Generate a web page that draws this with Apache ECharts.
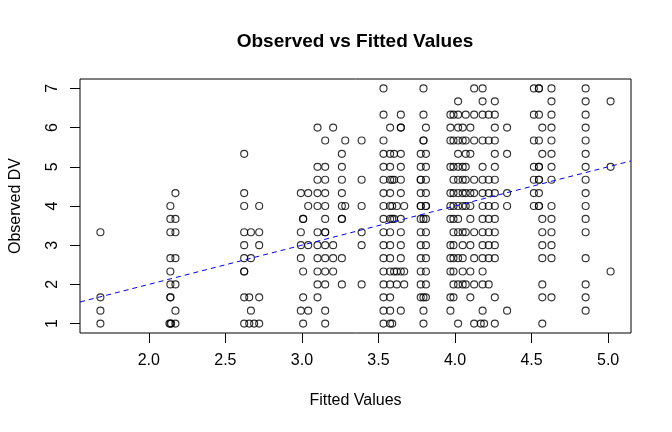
<!DOCTYPE html>
<html>
<head>
<meta charset="utf-8">
<script src="https://cdn.jsdelivr.net/npm/echarts@6/dist/echarts.min.js"></script>
<style>
html,body{margin:0;padding:0;background:#fff;}
#c{width:672px;height:432px;}
</style>
</head>
<body>
<div id="c"></div>
<script>
// ---- data ----
const chartTitle = 'Observed vs Fitted Values';
const xLabel = 'Fitted Values';
const yLabel = 'Observed DV';
const xTicks = [2.0, 2.5, 3.0, 3.5, 4.0, 4.5, 5.0];
const yTicks = [1, 2, 3, 4, 5, 6, 7];
// fitted-value columns and the observed values stacked at each
const fittedValues = [
  1.684, 2.135, 2.141, 2.146, 2.174,
  2.623, 2.656, 2.667, 2.688, 2.721,
  2.993, 3.008, 3.041, 3.102, 3.152, 3.204, 3.261, 3.283, 3.39,
  3.533, 3.576, 3.59, 3.602, 3.62, 3.646, 3.668, 3.776, 3.794, 3.81,
  3.97, 3.99, 4.02, 4.05, 4.07, 4.10, 4.125, 4.168, 4.18, 4.19, 4.22, 4.26, 4.34,
  4.515, 4.548, 4.57, 4.63, 4.853, 5.016
];
const observedAtFitted = [
  [1, 1.33, 1.67, 3.33],
  [1],
  [1, 1.67, 1.67, 2, 2.33, 2.67, 3.33, 3.67, 4],
  [1],
  [1, 1.33, 2, 2.67, 3.33, 3.67, 4.33],
  [1, 1.67, 2.33, 2.33, 2.67, 3, 3.33, 4, 4.33, 5.33],
  [1, 1.67],
  [1.33, 2.67, 3.33],
  [1],
  [1, 1.67, 3, 3.33, 4],
  [1.33, 2.67, 3, 3.33, 4.33],
  [1, 1.67, 2.33, 3.67, 3.67],
  [1.33, 3, 4, 4.33],
  [1.67, 2, 2.33, 2.67, 3, 3.33, 4, 4.33, 4.67, 5, 6],
  [1, 1.33, 2, 2.33, 2.67, 3, 3.33, 3.33, 3.67, 4, 4.33, 4.67, 5, 5.67],
  [2.33, 2.67, 3, 6],
  [2, 2.67, 3.67, 3.67, 4, 4.33, 4.67, 5, 5.33],
  [4, 5.67],
  [2, 3, 3.33, 4, 4.67, 5.67],
  [1, 1.33, 1.67, 2, 2.33, 2.67, 3, 3.33, 3.67, 4, 4.33, 4.67, 5, 5.33, 5.67, 6.33, 7],
  [1, 1.33, 1.67, 2, 2.33, 2.67, 3, 3.33, 3.67, 4, 4.33, 4.67, 5, 5.33, 6],
  [1, 3.67, 4, 4.67],
  [2.33, 3.67, 4.67, 5.33],
  [2, 2.33, 4],
  [1.33, 2.33, 2.67, 3, 3.33, 3.67, 4.33, 4.67, 5, 5.33, 6, 6, 6.33],
  [2, 2.33, 4],
  [1.67, 2, 2.33, 2.67, 3, 3.33, 3.67, 4, 4, 4.33, 4.67, 4.67, 5, 5.33],
  [1, 1.33, 1.67, 3.67, 5.67, 5.67, 6.33, 7],
  [1.67, 2, 2.33, 2.67, 3, 3.33, 3.67, 4, 4, 4.33, 4.67, 5, 5.33, 6],
  [1.33, 1.67, 2.33, 2.67, 3, 3.67, 4, 4.33, 5, 5.67, 6, 6.33],
  [1.67, 2, 2.33, 2.67, 3, 3.33, 3.67, 4, 4.33, 4.67, 5, 5.67, 6.33],
  [1, 2, 2.67, 3.33, 3.67, 4, 4.33, 4.67, 5, 5.33, 5.67, 6, 6.33, 6.67],
  [2, 2.33, 2.67, 3, 3.33, 4, 4.33, 4.67, 5, 5.67, 6],
  [2, 3.33, 4, 4.33, 4.67, 5, 5.33, 5.67, 6.33],
  [1.67, 2.33, 3, 3.67, 4, 4.33, 5.33, 6],
  [1, 2, 2.67, 3.33, 4.33, 4.67, 5.67, 6.33, 7],
  [1],
  [1.33, 2, 2.33, 2.67, 3, 3.33, 3.67, 4, 4.33, 4.67, 5, 5.67, 6.33, 6.67, 7],
  [1],
  [2, 2.67, 3, 3.33, 3.67, 4, 4.33, 4.67, 5.67, 6.33],
  [1, 1.67, 2.67, 3, 3.33, 3.67, 4, 4.33, 4.67, 5, 5.33, 5.67, 6, 6.33, 6.67],
  [1.33, 4, 4.33, 5.33, 6],
  [4, 4.33, 4.67, 5, 5.67, 6.33, 7],
  [4, 4, 4.33, 4.67, 4.67, 5, 5, 5.67, 6.33, 7, 7],
  [1, 1.67, 2, 2.67, 3, 3.33, 3.67, 5.33, 6],
  [1.67, 2.67, 3, 3.33, 3.67, 4, 4.67, 5, 5.33, 5.67, 6, 6.33, 6.67, 7],
  [1.33, 1.67, 2, 2.67, 3.33, 3.67, 4, 4.33, 4.67, 5, 5.33, 5.67, 6, 6.33, 6.67, 7],
  [2.33, 5, 6.67]
];
// reference line (abline of observed on fitted)
const lineIntercept = 0;
const lineSlope = 1;

// ---- build ----
const points = [];
fittedValues.forEach((fx, i) => {
  observedAtFitted[i].forEach(v => points.push([fx, v]));
});
const allX = points.map(p => p[0]);
const allY = points.map(p => p[1]);
function rExtent(arr) {
  const lo = Math.min.apply(null, arr), hi = Math.max.apply(null, arr);
  const pad = 0.04 * (hi - lo);
  return [lo - pad, hi + pad];
}
const xExt = rExtent(allX);
const yExt = rExtent(allY);
const FONT = '"Liberation Sans", Arial, Helvetica, sans-serif';

const chart = echarts.init(document.getElementById('c'), null, {renderer: 'canvas'});
chart.setOption({
  animation: false,
  backgroundColor: '#fff',
  graphic: [{
    type: 'text',
    x: 355, y: 42,
    style: {
      text: chartTitle,
      font: 'bold 19px ' + FONT,
      fill: '#000',
      textAlign: 'center',
      textVerticalAlign: 'middle'
    }
  }],
  grid: {
    left: 79, right: 41, top: 79, bottom: 99,
    show: true, borderColor: '#000', borderWidth: 1,
    backgroundColor: 'rgba(0,0,0,0)'
  },
  xAxis: {
    type: 'value',
    min: xExt[0], max: xExt[1],
    axisLine: {show: false},
    splitLine: {show: false},
    axisTick: {show: true, length: 10, lineStyle: {color: '#000', width: 1}, customValues: xTicks},
    axisLabel: {
      customValues: xTicks,
      formatter: v => Number(v).toFixed(1),
      fontSize: 16, color: '#000', fontFamily: FONT, margin: 20
    },
    name: xLabel, nameLocation: 'middle', nameGap: 60,
    nameTextStyle: {fontSize: 16, color: '#000', fontFamily: FONT}
  },
  yAxis: {
    type: 'value',
    min: yExt[0], max: yExt[1],
    axisLine: {show: false},
    splitLine: {show: false},
    axisTick: {show: true, length: 10, lineStyle: {color: '#000', width: 1}, customValues: yTicks},
    axisLabel: {
      customValues: yTicks,
      rotate: 90,
      formatter: v => String(Math.round(v)),
      fontSize: 16, color: '#000', fontFamily: FONT, margin: 19
    },
    name: yLabel, nameLocation: 'middle', nameGap: 56, nameRotate: 90,
    nameTextStyle: {fontSize: 16, color: '#000', fontFamily: FONT}
  },
  series: [{
    type: 'scatter',
    data: points,
    symbol: 'circle',
    symbolSize: 7,
    itemStyle: {color: 'rgba(0,0,0,0)', borderColor: '#000', borderWidth: 1.15},
    emphasis: {disabled: true},
    z: 2
  }, {
    type: 'line',
    data: [
      [xExt[0], lineIntercept + lineSlope * xExt[0]],
      [xExt[1], lineIntercept + lineSlope * xExt[1]]
    ],
    symbol: 'none',
    clip: true,
    lineStyle: {color: '#0000ff', width: 1, type: [5, 4]},
    z: 3
  }]
});
</script>
</body>
</html>
